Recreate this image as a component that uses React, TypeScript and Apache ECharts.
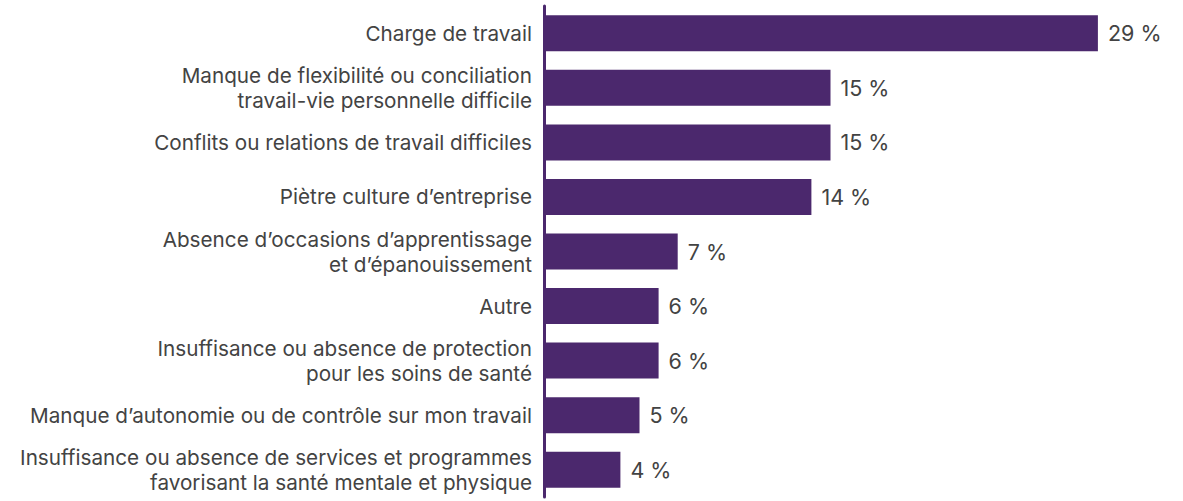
import React, { useEffect, useRef } from "react";
import * as echarts from "echarts";

const categories: string[] = [
  "Charge de travail",
  "Manque de flexibilité ou conciliation\ntravail-vie personnelle difficile",
  "Conflits ou relations de travail difficiles",
  "Piètre culture d’entreprise",
  "Absence d’occasions d’apprentissage\net d’épanouissement",
  "Autre",
  "Insuffisance ou absence de protection\npour les soins de santé",
  "Manque d’autonomie ou de contrôle sur mon travail",
  "Insuffisance ou absence de services et programmes\nfavorisant la santé mentale et physique",
];

const values: number[] = [29, 15, 15, 14, 7, 6, 6, 5, 4];

const FONT = "Inter, 'Liberation Sans', Arial, sans-serif";

export default function App() {
  const ref = useRef<HTMLDivElement>(null);

  useEffect(() => {
    if (!ref.current) return;
    const chart = echarts.init(ref.current, undefined, { renderer: "svg" });
    chart.setOption({
      animation: false,
      backgroundColor: "#ffffff",
      grid: { left: 544, top: 6, width: 573, height: 491, containLabel: false },
      xAxis: {
        type: "value",
        min: 0,
        max: 30,
        show: false,
      },
      yAxis: {
        type: "category",
        data: categories,
        inverse: true,
        axisLine: { show: true, lineStyle: { color: "#4B286D", width: 3 } },
        axisTick: { show: false },
        axisLabel: {
          color: "#434343",
          fontFamily: FONT,
          fontSize: 20.7,
          lineHeight: 25,
          align: "right",
          margin: 12,
          padding: [6, 0, 0, 0],
        },
      },
      series: [
        {
          type: "bar",
          data: values,
          barWidth: 36,
          itemStyle: { color: "#4B286D" },
          label: {
            show: true,
            position: "right",
            distance: 10,
            formatter: "{c} %",
            color: "#434343",
            fontFamily: FONT,
            fontSize: 21.5,
            padding: [3, 0, 0, 0],
          },
        },
      ],
    });
    return () => chart.dispose();
  }, []);

  return (
    <div
      ref={ref}
      style={{ position: "fixed", left: 0, top: 0, width: 1183, height: 501 }}
    />
  );
}
